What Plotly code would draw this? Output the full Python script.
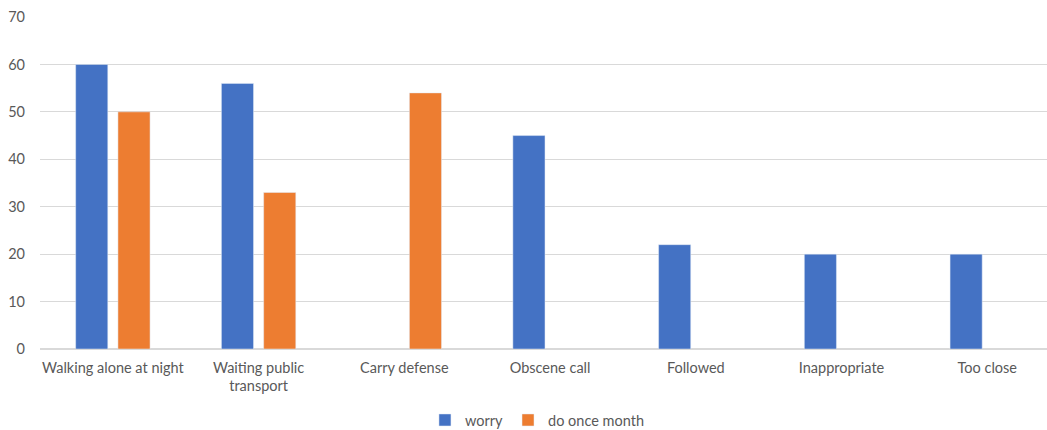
import plotly.graph_objects as go

categories = ["Walking alone at night", "Waiting public<br>transport", "Carry defense",
              "Obscene call", "Followed", "Inappropriate", "Too close"]
worry = [60, 56, None, 45, 22, 20, 20]
do_once_month = [50, 33, 54, None, None, None, None]
y_ticks = [0, 10, 20, 30, 40, 50, 60, 70]

font = dict(family="Lato, 'Open Sans', sans-serif", size=14.5, color="#595959")

fig = go.Figure()
fig.add_trace(go.Bar(x=categories, y=worry, name="worry", marker_color="#4472C4"))
fig.add_trace(go.Bar(x=categories, y=do_once_month, name="do once month", marker_color="#ED7D31"))

fig.update_layout(
    width=1047, height=430,
    margin=dict(l=40, r=0, t=17, b=81, autoexpand=False),
    paper_bgcolor="white", plot_bgcolor="white",
    barmode="group", bargap=0.42, bargroupgap=0.24,
    font=font,
    showlegend=True,
    legend=dict(orientation="h", x=0.494, xanchor="center", y=-0.214, yanchor="middle",
                font=dict(size=14.5, color="#595959"), itemwidth=30, traceorder="normal"),
    xaxis=dict(range=[-0.5, 6.41], showgrid=False, showline=False, ticks="",
               automargin=False, ticklabelstandoff=8,
               tickfont=dict(size=14.5, color="#595959"), tickangle=0),
    yaxis=dict(range=[0, 70], tickvals=y_ticks, showgrid=True, gridcolor="#D9D9D9",
               gridwidth=1, zeroline=True, zerolinecolor="#D9D9D9", zerolinewidth=1.5,
               showline=False, ticks="", ticklabelstandoff=14, automargin=False,
               tickfont=dict(size=14.5, color="#595959")),
)

fig.write_html("out.html", config={"displayModeBar": False},
               post_script="document.body.style.margin='0';document.body.style.overflow='hidden';")
